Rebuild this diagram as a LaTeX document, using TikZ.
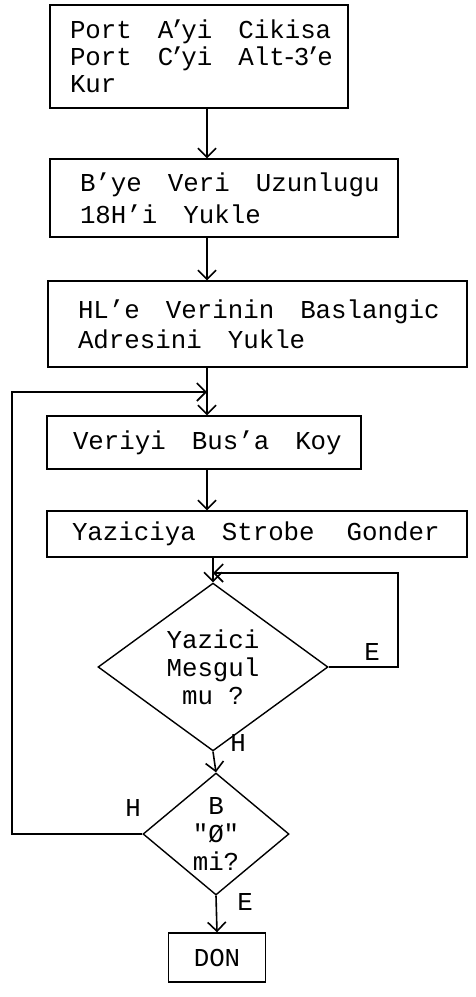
\documentclass[tikz,border=0pt]{standalone}
\usepackage{fontspec}
\usetikzlibrary{shapes.geometric,arrows.meta}
\newfontfamily\plotfont{Liberation Mono}
% plotter lettering at a given line spacing
\newcommand\plotsize[1]{\plotfont\fontsize{25.8pt}{#1pt}\selectfont}
% wide word gap that never breaks a line
\newcommand\gp{\kern26pt\relax}
% narrow punctuation cells
\newcommand\nap{\makebox[8pt]{’}}
\newcommand\nhy{\makebox[9pt]{-}}
\begin{document}
\begin{tikzpicture}[x=1pt,y=-1pt,
  every node/.style={font=\plotsize{28}},
  stepbox/.style={draw,line width=1.4pt,inner ysep=0pt,align=left},
  decision/.style={draw,diamond,line width=1.4pt,inner sep=0pt,align=center},
  lbl/.style={inner sep=0pt},
  flow/.style={line width=1.6pt,-{Straight Barb[length=9pt,width=18pt]}}]
\useasboundingbox (0,0) rectangle (475,997);

% process boxes
\node[stepbox,font=\plotsize{27},text width=258pt,inner xsep=20pt,minimum height=103pt] (b1) at (199,56.5)
  {\mbox{Port\gp A\nap yi\gp Cikisa}\\\mbox{Port\gp C\nap yi\gp Alt\nhy 3\nap e}\\\mbox{Kur}};
\node[stepbox,font=\plotsize{32},text width=288pt,inner xsep=30pt,minimum height=78pt] (b2) at (224,198)
  {\mbox{B’ye\gp Veri\gp Uzunlugu}\\\mbox{18H’i\gp Yukle}};
\node[stepbox,font=\plotsize{30},text width=359pt,inner xsep=30pt,minimum height=86pt] (b3) at (257.5,324)
  {\mbox{HL’e\gp Verinin\gp Baslangic}\\\mbox{Adresini\gp Yukle}};
\node[stepbox,text width=262pt,inner xsep=26pt,minimum height=53pt] (b4) at (204,442.5)
  {\mbox{Veriyi\gp Bus’a\gp Koy}};
\node[stepbox,text width=370pt,inner xsep=25pt,minimum height=46pt] (b5) at (257,534)
  {\mbox{Yaziciya\gp Strobe\gp\kern6pt Gonder}};

% decisions
\node[decision,minimum width=230pt,minimum height=130pt] (d1) at (213,667)
  {Yazici\\Mesgul\\mu ?};
\node[decision,minimum width=146pt,minimum height=122pt] (d2) at (216,834)
  {B\\"Ø"\\mi?};

% end box
\node[draw,line width=1.4pt,minimum width=97pt,minimum height=49pt,inner sep=0pt] (don) at (217,957.5) {DON};

% branch labels
\node[lbl] (e1) at (372,652) {E};
\node[lbl] (h1) at (238,743) {H};
\node[lbl] (h2) at (133,808) {H};
\node[lbl] (e2) at (245,902) {E};

% guide coordinates
\coordinate (ax) at (207,0);
\coordinate (lx) at (12,0);
\coordinate (rx) at (398,0);
\coordinate (j1) at (207,392);
\coordinate (j2) at (213,573);

% main flow
\draw[flow] (b1.south -| ax) -- (b2.north -| ax);
\draw[flow] (b2.south -| ax) -- (b3.north -| ax);
\draw[flow] (b3.south -| ax) -- (b4.north -| ax);
\draw[flow] (b4.south -| ax) -- (b5.north -| ax);
\draw[flow] (b5.south -| d1.north) -- (d1.north);
\draw[flow] (d1.south) -- (d2.north);
\draw[flow] (d2.south) -- (don.north);

% busy loop
\draw[flow] (d1.east) -- (d1.east -| rx) -- (rx |- j2) -- (j2);
% repeat loop
\draw[flow] (d2.west) -- (d2.west -| lx) -- (lx |- j1) -- (j1);
\end{tikzpicture}
\end{document}
